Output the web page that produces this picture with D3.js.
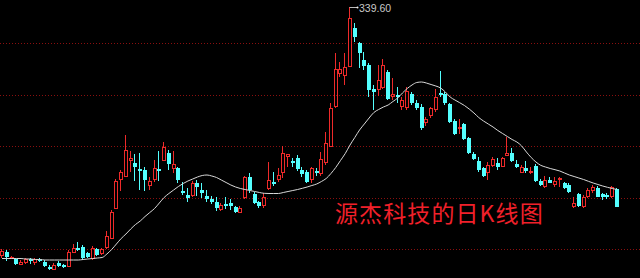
<!DOCTYPE html>
<html>
<head>
<meta charset="utf-8">
<script src="https://cdn.jsdelivr.net/npm/d3@7"></script>
<style>
  html, body { margin: 0; padding: 0; background: #000; }
  svg { display: block; }
</style>
</head>
<body>
<svg id="chart" width="640" height="278"></svg>
<script>
// daily candles, left to right
const open = [91, 95, 89, 88, 82.5, 84, 88, 84, 88, 85.5, 80.5, 77.5, 84, 82, 80.5, 94.5, 99.5, 100, 94, 88,
  98, 93, 99, 108.5, 138.5, 167.5, 170.5, 186.5, 183.7, 178, 177.5, 161.5, 167.5, 178, 186.2, 193.7, 178.5, 179, 156.5, 152,
  151.5, 164.3, 157, 151, 147.7, 145, 137, 143, 144.3, 140.3, 134.3, 148.7, 170.3, 153, 145.3, 141, 157.7, 165.3, 167, 173.7,
  190.3, 186, 188.7, 177, 174.7, 167, 176.3, 173, 183.7, 200.3, 239.7, 273, 271, 280.3, 318.7, 303.7, 287, 282, 258, 257,
  259, 275, 250, 252, 240, 238.7, 252.7, 244.3, 240.3, 224.3, 231, 237, 254.3, 252.7, 242.7, 226.3, 218.7, 222.7, 208.7, 192.7,
  186, 178.7, 173.7, 181, 183.7, 180.3, 191.3, 193.7, 183, 174.3, 178.7, 173.7, 181, 166.3, 160.3, 167, 161.7, 167.7, 164.3, 162,
  140.3, 153, 140.3, 149.7, 156.3, 159.3, 153, 152, 149.7, 157.7]
const high = [98, 97, 91, 89, 87, 89, 89, 89, 89, 87, 82, 84, 86, 83, 97, 103, 105, 102, 95, 101,
  99, 99, 116, 137.5, 168, 177, 212, 196.5, 193.5, 193.7, 180, 170, 187, 195.5, 205, 197, 196.3, 180, 165.3, 159,
  166, 167, 164.3, 157, 151, 150, 144.3, 149.7, 148, 141, 141, 171, 173.7, 155.3, 146.3, 153.7, 185.3, 174.7, 178.7, 201.3,
  193, 188.7, 192, 180.3, 177, 180.3, 178.7, 195.3, 215.3, 243.7, 293.7, 285.3, 293.7, 339.6, 323.7, 305.3, 295.3, 284, 262, 282,
  288, 277, 269, 260, 250, 260, 255, 247, 243, 230.3, 240.3, 257.7, 276, 255.3, 243.7, 227.7, 227.7, 223.7, 209.7, 195.3,
  190.3, 180.3, 185.3, 189.7, 188.7, 190.3, 209.7, 198.7, 187, 182, 186, 179.7, 183, 167.7, 171, 169.7, 170.3, 170.3, 165.3, 163.7,
  150.3, 154.3, 152, 158.7, 162, 161, 154.3, 154.3, 161, 158.7]
const low = [89, 86, 88, 82, 82, 83, 83, 82, 85, 80, 77, 77, 80, 79.5, 80, 94, 96, 87, 89, 87,
  91, 92, 98, 108, 138, 156, 170, 175, 166.5, 157, 156.5, 157, 165, 165.5, 186, 177, 174, 164, 152, 145.3,
  150, 151, 148.7, 145.3, 143, 136.5, 136.3, 138, 137, 134.3, 133.7, 148.5, 153.7, 143, 139, 138.7, 157, 161, 165.3, 168.7,
  180.3, 180.3, 176.3, 170.3, 163.7, 163.7, 171, 171, 182, 200, 239, 270.3, 262, 280, 305.3, 278.7, 277, 250, 237, 251,
  258, 247, 247, 244, 237, 237, 242, 237, 217, 221, 228.7, 235.3, 250.3, 242, 223.7, 212, 213, 207, 193, 187,
  175.3, 170.3, 167, 179.7, 177, 179.7, 191, 185.3, 178.7, 173.7, 174.3, 173, 165.3, 161, 158.7, 163.7, 160.3, 160.3, 158.3, 154.3,
  138.7, 140.3, 138.7, 148.7, 154.3, 149.7, 147, 147.7, 148.7, 140.3]
const close = [96, 90, 90, 83, 85, 88, 86, 88, 86, 81, 78, 82.5, 81, 80, 95.5, 99.5, 97, 89, 90, 99,
  92, 98, 111, 135.3, 166.5, 175.3, 197, 189, 180.3, 176.5, 167, 166.5, 178.7, 176.5, 200.5, 182.7, 182.7, 167, 154, 149,
  164, 159.7, 154.3, 148.3, 145, 139.5, 142, 141.5, 140.7, 135.3, 138.7, 170.3, 157, 144.3, 141.5, 150.3, 167, 162.7, 172, 193.7,
  192.7, 183.7, 177.7, 172.7, 165.3, 178.7, 173.7, 187.7, 204.3, 238.7, 277.7, 278, 279.7, 328.7, 309.7, 293.7, 281, 257, 255, 267,
  282, 248, 253, 250, 247, 256.3, 243.7, 238.7, 218.7, 227.7, 238.7, 249.7, 252, 243.7, 225.3, 213, 220.3, 207.7, 193.7, 188.3,
  177, 171, 182, 188, 180.3, 189.3, 193.7, 186.3, 179.7, 180.3, 176, 176.3, 166.3, 162, 167, 164.3, 166.3, 169.3, 159.3, 155.3,
  143.7, 141, 150.3, 157, 159.7, 150.3, 149.7, 150.3, 160.3, 140.3]
// moving average line
const ma = [88.5, 88.5, 88.5, 88.5, 88.5, 88, 88, 87.5, 87.5, 87, 87, 87, 87, 87, 87, 87, 87, 87.5, 88, 88.5,
  89, 89.5, 93, 97.5, 103, 108.5, 113, 118, 122.5, 126, 130.5, 134.5, 138.5, 144, 149.5, 153.5, 157, 160.5, 163.5, 166,
  168, 170, 171.5, 172, 171, 169.5, 167, 164.5, 162, 160, 158.5, 157.5, 156.5, 155.5, 154.5, 153.7, 153.5, 153.5, 153.5, 154.5,
  155.5, 156.5, 157.5, 158.7, 160, 161.5, 163, 165.5, 168.5, 173.5, 179.5, 186.5, 193.5, 202, 209.5, 217, 223, 229, 234.5, 237.5,
  240, 242, 245.5, 249, 254, 258.5, 262, 264.5, 265, 264, 262.5, 261, 259, 255, 250, 247, 244.3, 241.5, 238, 234,
  229.5, 226, 223, 220, 216.5, 213.5, 210.5, 207.5, 205, 201, 195, 189.5, 185, 181.7, 180, 178.5, 177.3, 176, 174, 172,
  170.5, 169, 167.5, 165.7, 164, 162.5, 161, 159.7, 158.5, 157.5]
const gridLevels = [304, 252.5, 201, 149.5, 98]
const peakLabel = "339.60"
const title = "源杰科技的日K线图"

const upColor = "#ee2a2a"
const downColor = "#54ffff"

const svg = d3.select("#chart")
const W = +svg.attr("width"), H = +svg.attr("height")

svg.append("rect").attr("width", W).attr("height", H).attr("fill", "#000")

const idx = d3.range(open.length)
const scX = d3.scaleLinear().domain([0, idx.length - 1]).range([2, 617])
const scY = d3.scaleLinear().domain([347, 69]).range([0, H])

// dotted grid
svg.append("g").selectAll("line").data(gridLevels).enter().append("line")
    .attr("x1", 0).attr("x2", W)
    .attr("y1", d => Math.round(scY(d)) + 0.5).attr("y2", d => Math.round(scY(d)) + 0.5)
    .attr("stroke", "#8a0f0f").attr("stroke-width", 1)
    .attr("stroke-dasharray", "1,2")

const candles = svg.append("g").attr("shape-rendering", "crispEdges")
    .selectAll("g").data(idx).enter().append("g")

candles.each(function (i) {
    let g = d3.select(this)
    let px = Math.round(scX(i))
    let up = close[i] >= open[i]
    let top = Math.round(scY(Math.max(open[i], close[i])))
    let bot = Math.round(scY(Math.min(open[i], close[i])))
    let hi = Math.round(scY(high[i]))
    let lo = Math.round(scY(low[i]))
    if (bot - top < 1) bot = top + 1
    let col = up ? upColor : downColor
    if (up) {
        g.append("line").attr("x1", px - 0.5).attr("x2", px - 0.5).attr("y1", hi).attr("y2", top)
            .attr("stroke", col)
        g.append("line").attr("x1", px - 0.5).attr("x2", px - 0.5).attr("y1", bot).attr("y2", lo)
            .attr("stroke", col)
        g.append("rect").attr("x", px - 1.5).attr("y", top + 0.5)
            .attr("width", 3).attr("height", Math.max(bot - top - 1, 0.5))
            .attr("fill", "none").attr("stroke", col)
    } else {
        g.append("line").attr("x1", px - 0.5).attr("x2", px - 0.5).attr("y1", hi).attr("y2", lo)
            .attr("stroke", col)
        g.append("rect").attr("x", px - 2).attr("y", top)
            .attr("width", 4).attr("height", bot - top)
            .attr("fill", col)
    }
})

// moving average
let lnMkr = d3.line().curve(d3.curveMonotoneX).x((d, i) => scX(i)).y(d => scY(d))
svg.append("path").attr("d", lnMkr(ma))
    .attr("fill", "none").attr("stroke", "#d8d8d8").attr("stroke-width", 1)

// peak marker
let peakI = d3.maxIndex(high)
let peakX = Math.round(scX(peakI)) - 0.5
let peakY = Math.round(scY(high[peakI])) + 0.5
svg.append("line").attr("x1", peakX).attr("x2", peakX + 8).attr("y1", peakY).attr("y2", peakY)
    .attr("stroke", "#bbbbbb")
svg.append("circle").attr("cx", peakX + 8).attr("cy", peakY).attr("r", 1).attr("fill", "#eeeeee")
svg.append("text").attr("x", peakX + 9.5).attr("y", peakY)
    .attr("dominant-baseline", "central")
    .attr("font-family", "Arial, 'Liberation Sans', sans-serif").attr("font-size", 10.5)
    .attr("fill", "#c8c8c8").text(peakLabel)

svg.append("text").attr("x", 335).attr("y", 222)
    .attr("font-family", "'Noto Sans CJK SC', sans-serif").attr("font-size", 23)
    .attr("letter-spacing", 1.1)
    .attr("fill", "#f0202a").text(title)
</script>
</body>
</html>
